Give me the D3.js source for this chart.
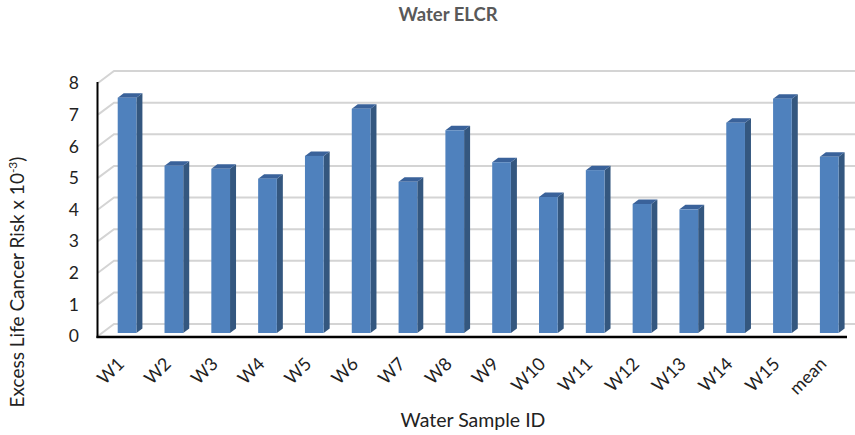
<!DOCTYPE html>
<html>
<head>
<meta charset="utf-8">
<script src="https://cdn.jsdelivr.net/npm/d3@7"></script>
<style>
  body { margin: 0; background: #fff; }
  text { font-family: Lato, "Open Sans", sans-serif; }
</style>
</head>
<body>
<div id="chart"></div>
<script>
// Datos
var muestras = ["W1","W2","W3","W4","W5","W6","W7","W8","W9","W10","W11","W12","W13","W14","W15","mean"];
var elcr = [7.44, 5.29, 5.19, 4.88, 5.60, 7.09, 4.78, 6.41, 5.40, 4.30, 5.15, 4.08, 3.91, 6.65, 7.41, 5.57];
var ticksY = [0, 1, 2, 3, 4, 5, 6, 7, 8];

var ancho = 855, alto = 435;

// profundidad de la pared (vista oblicua tipo Excel 3D)
var paredDx = 16, paredDy = -12;
var barraDx = 6, barraDy = -4.5;
var barraAncho = 18.7;

var svg = d3.select("#chart").append("svg")
  .attr("width", ancho)
  .attr("height", alto);

var x = d3.scaleBand().domain(muestras).range([98, 847]).padding(0);
var y = d3.scaleLinear().domain([0, 8]).range([336, 83]);

// Grilla: lado izquierdo + pared del fondo
svg.append("g").selectAll("polyline")
  .data(ticksY)
  .enter().append("polyline")
  .attr("points", function(d) {
    var yf = y(d);
    return [[98, yf], [98 + paredDx, yf + paredDy], [ancho + 20, yf + paredDy]].join(" ");
  })
  .attr("fill", "none")
  .attr("stroke", "#d4d4d4")
  .attr("stroke-width", 2);

// Barras
var barras = svg.append("g").selectAll("g")
  .data(elcr)
  .enter().append("g");

function frenteX(i) { return x(muestras[i]) + x.bandwidth() / 2 - 3.7; }
function topeY(d) { return y(d) - 3; }
var baseY = y(0) - 3;

// cara lateral
barras.append("polygon")
  .attr("points", function(d, i) {
    var x1 = frenteX(i) + barraAncho;
    return [[x1, topeY(d)], [x1 + barraDx, topeY(d) + barraDy], [x1 + barraDx, baseY + barraDy], [x1, baseY]].join(" ");
  })
  .attr("fill", "#34577f");

// cara superior
barras.append("polygon")
  .attr("points", function(d, i) {
    var x0 = frenteX(i), yt = topeY(d);
    return [[x0, yt], [x0 + barraAncho, yt], [x0 + barraAncho + barraDx, yt + barraDy], [x0 + barraDx, yt + barraDy]].join(" ");
  })
  .attr("fill", "#3a629a");

// cara frontal
barras.append("rect")
  .attr("x", function(d, i) { return frenteX(i); })
  .attr("y", function(d) { return topeY(d); })
  .attr("width", barraAncho)
  .attr("height", function(d) { return baseY - topeY(d); })
  .attr("fill", "#4f81bd");

// Ejes
svg.append("line")
  .attr("x1", 97.5).attr("x2", 97.5)
  .attr("y1", 82).attr("y2", 338)
  .attr("stroke", "#000").attr("stroke-width", 2);

svg.append("line")
  .attr("x1", 96.5).attr("x2", 847)
  .attr("y1", 337).attr("y2", 337)
  .attr("stroke", "#000").attr("stroke-width", 2.5);

// Etiquetas eje Y
svg.append("g").selectAll("text")
  .data(ticksY)
  .enter().append("text")
  .attr("x", 79)
  .attr("y", function(d) { return y(d); })
  .attr("dy", "0.36em")
  .attr("text-anchor", "end")
  .attr("font-size", 17.5)
  .attr("fill", "#222")
  .text(function(d) { return d; });

// Etiquetas eje X (rotadas)
svg.append("g").selectAll("text")
  .data(muestras)
  .enter().append("text")
  .attr("transform", function(d) {
    return "translate(" + (x(d) + x.bandwidth() / 2 + 4) + ",365) rotate(-45)";
  })
  .attr("text-anchor", "end")
  .attr("font-size", 18)
  .attr("fill", "#222")
  .text(function(d) { return d; });

// Titulos
svg.append("text")
  .attr("x", 448).attr("y", 21)
  .attr("text-anchor", "middle")
  .attr("font-size", 18.5)
  .attr("font-weight", "bold")
  .attr("fill", "#595959")
  .text("Water ELCR");

svg.append("text")
  .attr("x", 473).attr("y", 427)
  .attr("text-anchor", "middle")
  .attr("font-size", 19.5)
  .attr("fill", "#222")
  .text("Water Sample ID");

var tituloY = svg.append("text")
  .attr("transform", "translate(24,282) rotate(-90)")
  .attr("text-anchor", "middle")
  .attr("font-size", 19)
  .attr("fill", "#222");
tituloY.append("tspan").text("Excess Life Cancer Risk x 10");
tituloY.append("tspan").attr("dy", -7).attr("font-size", 12).text("-3");
tituloY.append("tspan").attr("dy", 7).text(")");
</script>
</body>
</html>
